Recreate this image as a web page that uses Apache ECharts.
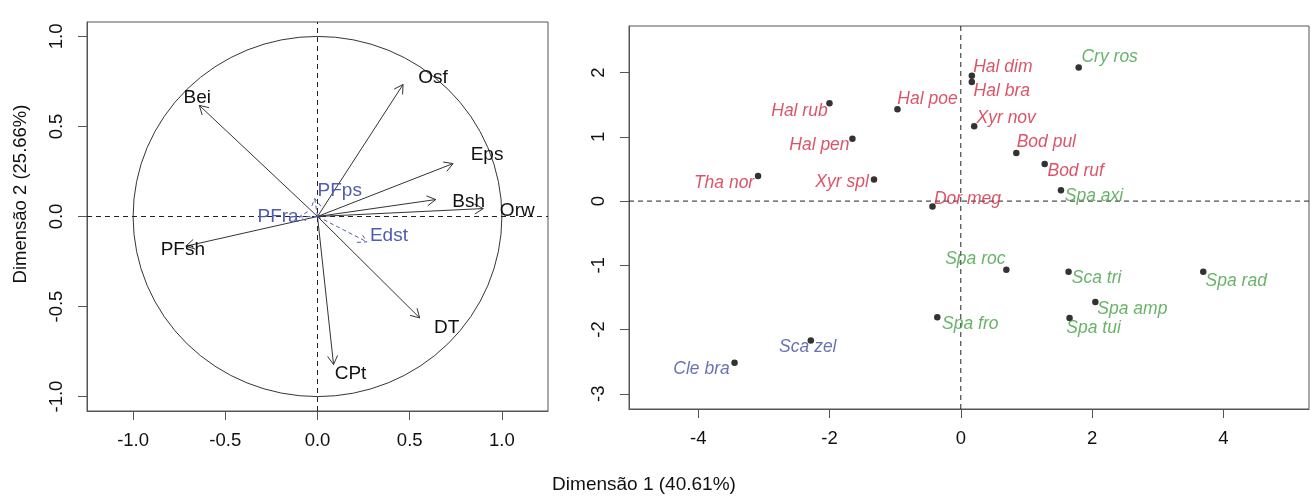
<!DOCTYPE html>
<html>
<head>
<meta charset="utf-8">
<script src="https://cdn.jsdelivr.net/npm/echarts@6/dist/echarts.min.js"></script>
<style>
  html, body { margin: 0; padding: 0; background: #fff; }
  #chart { width: 1311px; height: 496px; }
</style>
</head>
<body>
<div id="chart"></div>
<script>
// ---- Correlation circle: variable loadings (Dim 1, Dim 2) ----
const varNames = ['Bei', 'Osf', 'Eps', 'Bsh', 'Orw', 'DT', 'CPt', 'PFsh', 'PFps', 'PFra', 'Edst'];
const varDim1  = [-0.641, 0.464, 0.735, 0.641, 0.899, 0.554, 0.087, -0.714, -0.015, -0.100, 0.268];
const varDim2  = [ 0.617, 0.733, 0.294, 0.094, 0.044, -0.563, -0.822, -0.165, 0.100, -0.002, -0.141];
// supplementary variables (drawn dashed, in blue)
const varSupplementary = ['PFps', 'PFra', 'Edst'];

// ---- Species scores (Dim 1, Dim 2), by group ----
const redNames = ['Hal dim', 'Hal bra', 'Hal rub', 'Hal poe', 'Xyr nov', 'Hal pen', 'Bod pul', 'Bod ruf', 'Tha nor', 'Xyr spl', 'Dor meg'];
const redDim1  = [0.168, 0.168, -2.001, -0.965, 0.204, -1.651, 0.846, 1.278, -3.089, -1.322, -0.431];
const redDim2  = [1.953, 1.854, 1.522, 1.428, 1.164, 0.971, 0.748, 0.577, 0.390, 0.338, -0.083];

const greenNames = ['Cry ros', 'Spa axi', 'Spa roc', 'Sca tri', 'Spa rad', 'Spa amp', 'Spa fro', 'Spa tui'];
const greenDim1  = [1.796, 1.526, 0.694, 1.642, 3.694, 2.050, -0.358, 1.657];
const greenDim2  = [2.078, 0.167, -1.069, -1.100, -1.100, -1.573, -1.807, -1.822];

const blueNames = ['Sca zel', 'Cle bra'];
const blueDim1  = [-2.285, -3.447];
const blueDim2  = [-2.170, -2.517];

// ---- Axis ticks ----
const circleTicks = [-1, -0.5, 0, 0.5, 1];
const scoreXTicks = [-4, -2, 0, 2, 4];
const scoreYTicks = [-3, -2, -1, 0, 1, 2];

// ---- Axis extents ----
const circleXRange = [-1.25, 1.25];
const circleYRange = [-1.08, 1.08];
const scoreXRange = [-5.055, 5.305];
const scoreYRange = [-3.237, 2.726];

// ---- Label placement (pixel offsets from the mark) ----
const varLabelOffset = {
  Bei: [-2, -8], Osf: [30, -7], Eps: [34, -9], Bsh: [33, 2], Orw: [34, 2],
  DT: [27, 10], CPt: [17, 9], PFsh: [-3, 4], PFps: [25, -8], PFra: [-21, 0], Edst: [22, -6]
};
const speciesLabelOffset = {
  'Cry ros': [31, -10], 'Hal dim': [31, -9], 'Hal bra': [30, 9], 'Hal rub': [-30, 8],
  'Hal poe': [30, -10], 'Xyr nov': [32, -8], 'Hal pen': [-33, 6], 'Bod pul': [30, -11],
  'Bod ruf': [31, 7], 'Tha nor': [-34, 7], 'Xyr spl': [-32, 3], 'Spa axi': [33, 6],
  'Dor meg': [35, -7], 'Spa roc': [-31, -11], 'Sca tri': [28, 6], 'Spa rad': [33, 9],
  'Spa amp': [37, 7], 'Spa fro': [33, 7], 'Spa tui': [24, 10], 'Sca zel': [-3, 7],
  'Cle bra': [-33, 6]
};

const FONT = "'Liberation Sans', Arial, Helvetica, sans-serif";
const INK = '#111';
const BOX = '#555';
const RED = '#d12a42';
const GREEN = '#43a043';
const BLUE = '#434fa0';
const VARBLUE = '#4f5cb3';
const DASH = [5, 4];

function makeAxis(gridIndex, range, ticks, fmt, isY) {
  return {
    type: 'value', gridIndex: gridIndex, min: range[0], max: range[1],
    splitLine: { show: false },
    axisLine: { show: true, onZero: false, lineStyle: { color: BOX, width: 1 } },
    axisTick: { show: true, customValues: ticks, length: 9, lineStyle: { color: BOX, width: 1 } },
    axisLabel: {
      customValues: ticks, formatter: fmt, color: INK, fontSize: 18.5, fontFamily: FONT,
      margin: isY ? 21 : 20, rotate: isY ? 90 : 0
    }
  };
}

function speciesSeries(names, d1, d2, color) {
  return {
    type: 'scatter', xAxisIndex: 1, yAxisIndex: 1, symbol: 'circle', symbolSize: 6.5,
    itemStyle: { color: '#000' }, z: 5,
    label: {
      show: true, position: 'inside', color: color, fontSize: 17.5, fontStyle: 'italic',
      fontFamily: FONT, formatter: p => p.name
    },
    data: names.map((n, i) => ({
      name: n, value: [d1[i], d2[i]],
      label: { offset: speciesLabelOffset[n] }
    }))
  };
}

const chart = echarts.init(document.getElementById('chart'), null, { renderer: 'canvas' });

chart.setOption({
  animation: false,
  backgroundColor: '#fff',
  grid: [
    { left: 87, top: 22, width: 461, height: 389, show: true, borderColor: BOX, borderWidth: 1, backgroundColor: 'transparent' },
    { left: 629, top: 26, width: 680, height: 383, show: true, borderColor: BOX, borderWidth: 1, backgroundColor: 'transparent' }
  ],
  xAxis: [
    makeAxis(0, circleXRange, circleTicks, v => v.toFixed(1), false),
    makeAxis(1, scoreXRange, scoreXTicks, v => String(v), false)
  ],
  yAxis: [
    makeAxis(0, circleYRange, circleTicks, v => v.toFixed(1), true),
    makeAxis(1, scoreYRange, scoreYTicks, v => String(v), true)
  ],
  graphic: [
    {
      type: 'text', x: 21, y: 194, rotation: Math.PI / 2,
      style: { text: 'Dimensão 2 (25.66%)', fill: INK, fontSize: 18.5, fontFamily: FONT, align: 'center', verticalAlign: 'middle' }
    },
    {
      type: 'text', x: 644, y: 485,
      style: { text: 'Dimensão 1 (40.61%)', fill: INK, fontSize: 19, fontFamily: FONT, align: 'center', verticalAlign: 'middle' }
    }
  ],
  series: [
    // unit circle and dashed reference lines
    {
      type: 'custom', xAxisIndex: 0, yAxisIndex: 0, clip: false, silent: true, z: 1,
      data: [[0, 0]],
      renderItem: function (params, api) {
        const c = api.coord([0, 0]);
        const s = api.size([1, 1]);
        const l = api.coord([circleXRange[0], 0]), r = api.coord([circleXRange[1], 0]);
        const b = api.coord([0, circleYRange[0]]), t = api.coord([0, circleYRange[1]]);
        return {
          type: 'group', children: [
            { type: 'circle', x: c[0], y: c[1], scaleY: s[1] / s[0], shape: { cx: 0, cy: 0, r: s[0] },
              style: { fill: null, stroke: '#333', lineWidth: 1 } },
            { type: 'line', shape: { x1: l[0], y1: l[1], x2: r[0], y2: r[1] }, style: { stroke: '#222', lineWidth: 1, lineDash: DASH } },
            { type: 'line', shape: { x1: b[0], y1: b[1], x2: t[0], y2: t[1] }, style: { stroke: '#222', lineWidth: 1, lineDash: DASH } }
          ]
        };
      }
    },
    // variable arrows
    {
      type: 'custom', xAxisIndex: 0, yAxisIndex: 0, clip: false, silent: true, z: 3,
      data: varNames.map((n, i) => [varDim1[i], varDim2[i]]),
      renderItem: function (params, api) {
        const name = varNames[params.dataIndex];
        const supp = varSupplementary.indexOf(name) >= 0;
        const o = api.coord([0, 0]);
        const t = api.coord([api.value(0), api.value(1)]);
        const ang = Math.atan2(t[1] - o[1], t[0] - o[0]);
        const L = 10, A = Math.PI / 6;
        const h1 = [t[0] - L * Math.cos(ang - A), t[1] - L * Math.sin(ang - A)];
        const h2 = [t[0] - L * Math.cos(ang + A), t[1] - L * Math.sin(ang + A)];
        const stroke = supp ? VARBLUE : '#333';
        const dash = supp ? [4, 3] : null;
        const off = varLabelOffset[name];
        return {
          type: 'group', children: [
            { type: 'line', shape: { x1: o[0], y1: o[1], x2: t[0], y2: t[1] }, style: { stroke: stroke, lineWidth: 1, lineDash: dash } },
            { type: 'polyline', shape: { points: [h1, t, h2] }, style: { stroke: stroke, fill: null, lineWidth: 1, lineDash: dash } },
            { type: 'text', x: t[0] + off[0], y: t[1] + off[1], z2: 10,
              style: { text: name, fill: supp ? VARBLUE : INK, fontSize: 19, fontFamily: FONT, align: 'center', verticalAlign: 'middle' } }
          ]
        };
      }
    },
    // dashed reference lines for the score plot
    {
      type: 'custom', xAxisIndex: 1, yAxisIndex: 1, clip: false, silent: true, z: 1,
      data: [[0, 0]],
      renderItem: function (params, api) {
        const l = api.coord([scoreXRange[0], 0]), r = api.coord([scoreXRange[1], 0]);
        const b = api.coord([0, scoreYRange[0]]), t = api.coord([0, scoreYRange[1]]);
        return {
          type: 'group', children: [
            { type: 'line', shape: { x1: l[0], y1: l[1], x2: r[0], y2: r[1] }, style: { stroke: '#222', lineWidth: 1, lineDash: DASH } },
            { type: 'line', shape: { x1: b[0], y1: b[1], x2: t[0], y2: t[1] }, style: { stroke: '#222', lineWidth: 1, lineDash: DASH } }
          ]
        };
      }
    },
    speciesSeries(redNames, redDim1, redDim2, RED),
    speciesSeries(greenNames, greenDim1, greenDim2, GREEN),
    speciesSeries(blueNames, blueDim1, blueDim2, BLUE)
  ]
});
</script>
</body>
</html>
